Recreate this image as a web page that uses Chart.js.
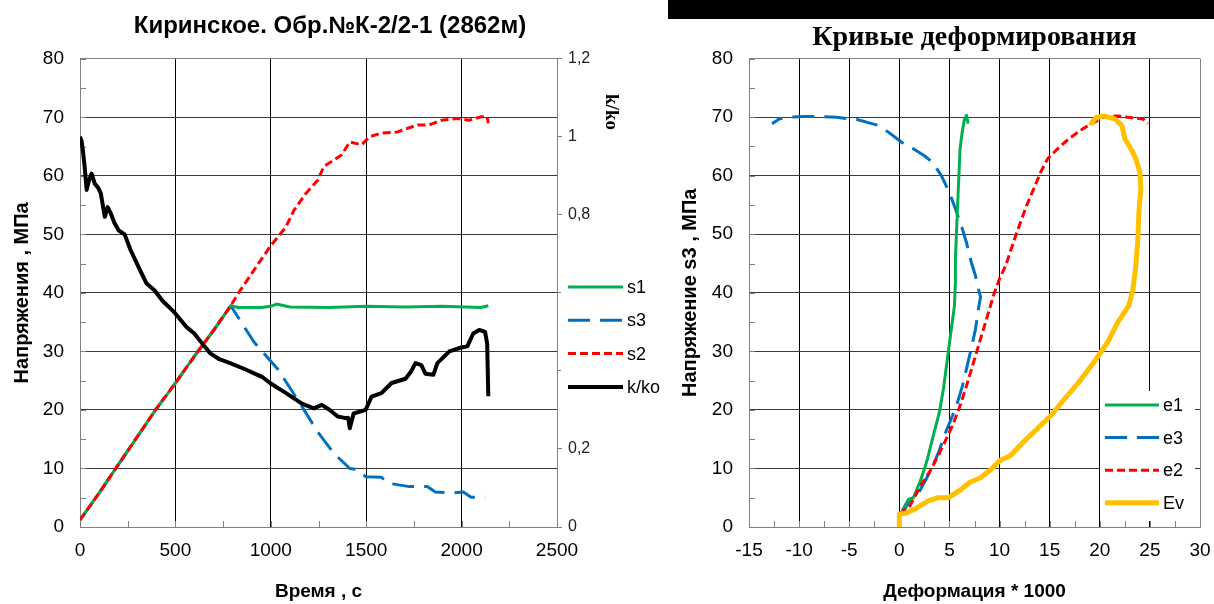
<!DOCTYPE html>
<html>
<head>
<meta charset="utf-8">
<script src="https://cdn.jsdelivr.net/npm/chart.js@4"></script>
<style>
body { margin: 0; background: #fff; width: 1214px; height: 604px; overflow: hidden; position: relative; }
#left { position: absolute; left: 0; top: 0; }
#bar { position: absolute; left: 668px; top: 0; width: 546px; height: 19px; background: #000; }
#right { position: absolute; left: 660px; top: 0; }
</style>
</head>
<body>
<canvas id="left" width="660" height="604"></canvas>
<div id="bar"></div>
<canvas id="right" width="554" height="604"></canvas>
<script>
// ---- left chart: stress and k/ko vs time ----
const s1Time = [0, 100, 200, 300, 400, 500, 600, 700, 790, 830, 950, 1000, 1030, 1100, 1300, 1500, 1700, 1900, 2100, 2140];
const s1Val  = [1.2, 5.8, 10.6, 15.4, 20.2, 24.6, 29.2, 33.6, 37.8, 37.5, 37.5, 37.7, 38.1, 37.6, 37.5, 37.7, 37.6, 37.7, 37.5, 37.8];

const s3Time = [0, 100, 200, 300, 400, 500, 600, 700, 790, 912, 1038, 1163, 1247, 1330, 1414, 1455, 1497, 1580, 1612, 1727, 1820, 1862, 1946, 2009, 2050, 2123];
const s3Val  = [1.2, 5.8, 10.6, 15.4, 20.2, 24.6, 29.2, 33.6, 37.8, 31.6, 26.9, 20.6, 16.2, 12.6, 10, 9.8, 8.6, 8.5, 7.5, 6.9, 6.9, 6, 5.8, 6, 5.1, 5.1];

const s2Time = [0, 100, 200, 300, 400, 500, 600, 700, 790, 829, 912, 996, 1038, 1080, 1121, 1184, 1247, 1278, 1330, 1372, 1414, 1476, 1518, 1580, 1664, 1769, 1831, 1894, 1977, 2040, 2103, 2134, 2140];
const s2Val  = [1.2, 5.8, 10.6, 15.4, 20.2, 24.6, 29.2, 33.6, 37.8, 39.9, 43.9, 47.9, 49.6, 51.3, 54.1, 57, 59.3, 61.6, 62.7, 63.6, 65.8, 65.3, 66.7, 67.3, 67.5, 68.7, 68.7, 69.5, 69.8, 69.5, 70.1, 70.1, 69];

const kTime = [0, 8, 15, 25, 35, 48, 61, 77, 95, 109, 130, 145, 161, 180, 203, 234, 265, 307, 349, 390, 432, 495, 557, 599, 641, 683, 730, 787, 871, 930, 954, 996, 1080, 1163, 1226, 1267, 1309, 1351, 1393, 1405, 1414, 1434, 1497, 1528, 1580, 1633, 1706, 1737, 1758, 1789, 1810, 1852, 1873, 1936, 1998, 2030, 2061, 2092, 2123, 2134, 2140];
const kVal  = [1.0, 0.99, 0.966, 0.92, 0.864, 0.89, 0.906, 0.88, 0.87, 0.855, 0.795, 0.82, 0.804, 0.78, 0.76, 0.75, 0.71, 0.666, 0.624, 0.607, 0.58, 0.55, 0.513, 0.496, 0.47, 0.445, 0.43, 0.42, 0.403, 0.39, 0.385, 0.369, 0.343, 0.316, 0.304, 0.313, 0.3, 0.283, 0.279, 0.28, 0.253, 0.291, 0.3, 0.334, 0.343, 0.369, 0.38, 0.4, 0.42, 0.415, 0.393, 0.39, 0.42, 0.45, 0.46, 0.463, 0.496, 0.505, 0.5, 0.47, 0.335];

// ---- right chart: deformation curves ----
const e1X = [0.3, 0.35, 0.9, 1.4, 2.1, 2.5, 2.8, 3.3, 4.0, 4.4, 4.75, 5.1, 5.5, 5.6, 5.6, 5.7, 5.9, 6.06, 6.27, 6.5, 6.7, 6.87];
const e1Y = [2.3, 3, 4.7, 5, 7.9, 9.9, 11.6, 15, 19.6, 23.6, 28.1, 32.7, 37.8, 42, 45.7, 50.3, 58.3, 64.6, 67.4, 69.7, 70.3, 68.9];

const e3X = [0, 0.35, 1.06, 1.76, 2.3, 3.2, 3.9, 4.6, 5.3, 5.8, 6.3, 6.7, 7.2, 7.6, 7.9, 8.1, 7.9, 7.6, 7.2, 6.7, 6.2, 5.6, 5.0, 4.2, 3.3, 2.5, 1.4, 0.7, 0, -1.06, -2.1, -3.2, -4.2, -5, -6.3, -8.1, -9.5, -10.9, -12, -12.5, -12.7];
const e3Y = [2, 2.4, 4.7, 5.3, 7, 9.9, 12.7, 16.1, 19, 21.3, 24.1, 27, 30.7, 33.8, 37.3, 39.3, 40.6, 42.9, 45.1, 48.6, 51.4, 54.3, 57.1, 60, 62.3, 63.4, 64.6, 65.1, 66, 67.4, 68.6, 69.1, 69.6, 69.7, 70, 70.1, 70.1, 70, 69.7, 69.1, 68.9];

const e2X = [0, 1.06, 2.1, 3.2, 4.2, 5.3, 6.0, 6.7, 7.4, 8.1, 8.8, 9.5, 10.0, 10.6, 11.6, 12.7, 13.4, 14.1, 14.8, 15.8, 16.9, 18.3, 19.4, 20.4, 21.8, 23.2, 24.3, 24.8];
const e2Y = [2.2, 3.6, 7, 9.9, 13.3, 17.3, 20.4, 24.1, 28.1, 32.1, 36.1, 40.1, 42.4, 44.6, 49.7, 54.9, 57.7, 60.6, 62.9, 64.6, 66.3, 68, 69.1, 70, 70.2, 69.9, 69.7, 68.9];

const evX = [0, 0, 0.7, 1.8, 2.8, 3.9, 4.9, 6.0, 7.0, 8.1, 9.2, 10.0, 11.1, 12.3, 13.7, 15.1, 16.5, 17.9, 19.4, 20.8, 21.8, 22.9, 23.3, 23.6, 23.8, 23.9, 24.1, 24.0, 23.6, 23.1, 22.5, 22.2, 21.5, 20.4, 19.7, 19.2, 19.1];
const evY = [0, 2.2, 2.4, 3.3, 4.4, 5, 5, 6.2, 7.6, 8.4, 9.9, 11.3, 12.2, 14.4, 16.7, 19, 21.9, 24.7, 28.1, 31.6, 35, 37.8, 40.5, 44.6, 49.1, 53.7, 57.7, 60.6, 62.9, 64.6, 66.3, 68.6, 69.7, 70.2, 70, 69.1, 68.6];

const GREEN = '#00B050', BLUE = '#0070C0', RED = '#FF0000', BLACK = '#000000', YELLOW = '#FFC000';
const SANS = "'Liberation Sans', Arial, sans-serif";
const SERIF = "'Liberation Serif', 'Times New Roman', serif";
const LONG_DASH = [22, 10], SHORT_DASH = [8, 4];

function pts(xs, ys) {
  return xs.map((x, i) => ({ x: x, y: ys[i] }));
}

// small inside tick marks between the major gridlines
const minorTicks = {
  id: 'minorTicks',
  beforeDatasetsDraw(chart, args, opts) {
    const { ctx, chartArea: a, scales } = chart;
    ctx.save();
    ctx.strokeStyle = '#808080';
    ctx.lineWidth = 1;
    ctx.beginPath();
    for (let v = scales.x.min; v <= scales.x.max; v += opts.x) {
      const p = Math.round(scales.x.getPixelForValue(v)) + 0.5;
      ctx.moveTo(p, a.bottom);
      ctx.lineTo(p, a.bottom - opts.len);
    }
    for (let v = scales.y.min; v <= scales.y.max; v += opts.y) {
      const p = Math.round(scales.y.getPixelForValue(v)) + 0.5;
      ctx.moveTo(a.left, p);
      ctx.lineTo(a.left + opts.len, p);
    }
    ctx.stroke();
    ctx.restore();
  }
};

// legend box drawn at a fixed place, plus optional rotated side title
const boxLegend = {
  id: 'boxLegend',
  afterDraw(chart, args, opts) {
    const ctx = chart.ctx;
    ctx.save();
    ctx.fillStyle = '#fff';
    ctx.fillRect(opts.box[0], opts.box[1], opts.box[2], opts.box[3]);
    ctx.font = opts.fontSize + 'px ' + SANS;
    ctx.textBaseline = 'middle';
    chart.data.datasets.forEach((ds, i) => {
      const y = opts.top + i * opts.gap;
      ctx.strokeStyle = ds.borderColor;
      ctx.lineWidth = ds.borderWidth;
      ctx.setLineDash(ds.borderDash || []);
      ctx.beginPath();
      ctx.moveTo(opts.x, y);
      ctx.lineTo(opts.x + opts.len, y);
      ctx.stroke();
      ctx.setLineDash([]);
      ctx.fillStyle = '#000';
      ctx.fillText(ds.label, opts.x + opts.len + 4, y + 1);
    });
    if (opts.side) {
      ctx.translate(opts.side.x, opts.side.y);
      ctx.rotate(Math.PI / 2);
      ctx.font = 'bold 19px ' + SERIF;
      ctx.textAlign = 'center';
      ctx.fillText(opts.side.text, 0, 0);
    }
    ctx.restore();
  }
};

const edgeColor = (scaleMin, scaleMax, inner) => ctx =>
  (ctx.tick && (ctx.tick.value === scaleMin || ctx.tick.value === scaleMax)) ? '#808080' : inner;

const tickFont = { family: SANS, size: 19 };
const xTitleFont = { family: SANS, size: 19, weight: 'bold' };
const yTitleFont = { family: SANS, size: 20, weight: 'bold' };

// left chart
new Chart(document.getElementById('left').getContext('2d'), {
  type: 'line',
  data: {
    datasets: [
      { label: 's1', data: pts(s1Time, s1Val), borderColor: GREEN, borderWidth: 3, order: 2, yAxisID: 'y' },
      { label: 's3', data: pts(s3Time, s3Val), borderColor: BLUE, borderWidth: 3, borderDash: LONG_DASH, order: 3, yAxisID: 'y' },
      { label: 's2', data: pts(s2Time, s2Val), borderColor: RED, borderWidth: 3, borderDash: SHORT_DASH, order: 1, yAxisID: 'y' },
      { label: 'k/ko', data: pts(kTime, kVal), borderColor: BLACK, borderWidth: 4, order: 0, yAxisID: 'y1' }
    ]
  },
  options: {
    responsive: false,
    animation: false,
    elements: { point: { radius: 0 }, line: { tension: 0, fill: false, borderJoinStyle: 'round' } },
    layout: { padding: 0 },
    plugins: {
      legend: { display: false },
      tooltip: { enabled: false },
      title: {
        display: true,
        text: 'Киринское. Обр.№К-2/2-1 (2862м)',
        color: '#000',
        font: { family: SANS, size: 24, weight: 'bold' },
        padding: { top: 12, bottom: 18 }
      },
      minorTicks: { x: 250, y: 5, len: 6 },
      boxLegend: {
        box: [561, 270, 99, 134],
        x: 568, len: 55, top: 287, gap: 33.3, fontSize: 18,
        side: { text: 'k/ko', x: 611, y: 112 }
      }
    },
    scales: {
      x: {
        type: 'linear', min: 0, max: 2500,
        ticks: { stepSize: 500, color: '#000', font: tickFont, padding: 0, maxRotation: 0, callback: v => String(v) },
        grid: { color: edgeColor(0, 2500, '#000'), drawTicks: true, tickLength: 12, tickColor: 'transparent' },
        border: { color: '#808080' },
        title: { display: true, text: 'Время , с', color: '#000', font: xTitleFont, padding: 1 },
        afterFit: s => { s.height = 77; }
      },
      y: {
        type: 'linear', position: 'left', min: 0, max: 80,
        ticks: { stepSize: 10, color: '#000', font: tickFont, padding: 16, callback: v => String(v) },
        grid: { color: edgeColor(0, 80, '#3a3a3a'), drawTicks: false },
        border: { color: '#808080' },
        title: { display: true, text: 'Напряжения , МПа', color: '#000', font: yTitleFont, padding: { top: 10, bottom: 0 } },
        afterFit: s => { s.width = 80; }
      },
      y1: {
        type: 'linear', position: 'right', min: 0, max: 1.2,
        ticks: {
          stepSize: 0.2, color: '#222', font: { family: SANS, size: 16 }, padding: 6,
          callback: v => String(Number(v.toFixed(1))).replace('.', ',')
        },
        grid: { drawOnChartArea: false, tickLength: 5, tickColor: '#808080' },
        border: { color: '#808080' },
        afterFit: s => { s.width = 103; }
      }
    }
  },
  plugins: [minorTicks, boxLegend]
});

// right chart
new Chart(document.getElementById('right').getContext('2d'), {
  type: 'line',
  data: {
    datasets: [
      { label: 'e1', data: pts(e1X, e1Y), borderColor: GREEN, borderWidth: 3, order: 2 },
      { label: 'e3', data: pts(e3X, e3Y), borderColor: BLUE, borderWidth: 3, borderDash: LONG_DASH, order: 3 },
      { label: 'e2', data: pts(e2X, e2Y), borderColor: RED, borderWidth: 3, borderDash: SHORT_DASH, order: 1 },
      { label: 'Ev', data: pts(evX, evY), borderColor: YELLOW, borderWidth: 5, order: 0 }
    ]
  },
  options: {
    responsive: false,
    animation: false,
    elements: { point: { radius: 0 }, line: { tension: 0, fill: false, borderJoinStyle: 'round' } },
    layout: { padding: { left: 0, right: 14, top: 0, bottom: 0 } },
    plugins: {
      legend: { display: false },
      tooltip: { enabled: false },
      title: {
        display: true,
        fullSize: false,
        text: 'Кривые деформирования',
        color: '#000',
        font: { family: SERIF, size: 28, weight: 'bold' },
        padding: { top: 21, bottom: 4 }
      },
      minorTicks: { x: 2.5, y: 5, len: 6 },
      boxLegend: {
        box: [440, 391, 95, 130],
        x: 445, len: 54, top: 405, gap: 32.6, fontSize: 18
      }
    },
    scales: {
      x: {
        type: 'linear', min: -15, max: 30,
        ticks: { stepSize: 5, color: '#000', font: tickFont, padding: 0, maxRotation: 0, callback: v => String(v) },
        grid: { color: edgeColor(-15, 30, '#000'), drawTicks: true, tickLength: 12, tickColor: 'transparent' },
        border: { color: '#808080' },
        title: { display: true, text: 'Деформация * 1000', color: '#000', font: xTitleFont, padding: 1 },
        afterFit: s => { s.height = 77; }
      },
      y: {
        type: 'linear', min: 0, max: 80,
        ticks: { stepSize: 10, color: '#000', font: tickFont, padding: 16, callback: v => String(v) },
        grid: { color: edgeColor(0, 80, '#3a3a3a'), drawTicks: false },
        border: { color: '#808080' },
        title: { display: true, text: 'Напряжение s3 , МПа', color: '#000', font: yTitleFont, padding: { top: 18, bottom: 0 } },
        afterFit: s => { s.width = 89; }
      }
    }
  },
  plugins: [minorTicks, boxLegend]
});
</script>
</body>
</html>
